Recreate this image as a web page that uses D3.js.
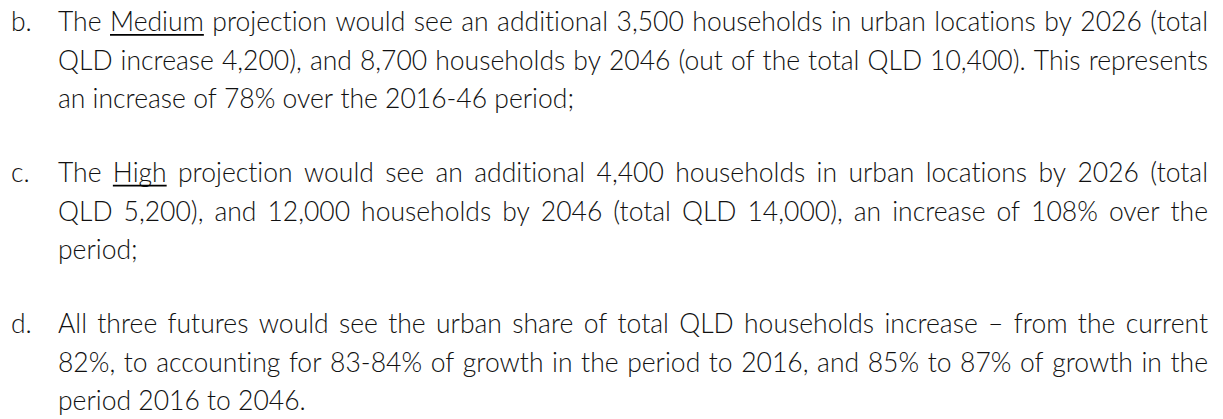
<!DOCTYPE html>
<html><head><meta charset="utf-8">
<script src="https://cdn.jsdelivr.net/npm/d3@7"></script>
<style>body{margin:0;background:#fff;overflow:hidden} text{font-variant-ligatures:none;font-feature-settings:"liga" 0,"clig" 0,"dlig" 0}</style>
</head><body>
<svg id="c" width="1223" height="419"></svg>
<script>
const labels = ["b.", "c.", "d."];
const paraB = [
  "The _Medium_ projection would see an additional 3,500 households in urban locations by 2026 (total",
  "QLD increase 4,200), and 8,700 households by 2046 (out of the total QLD 10,400). This represents",
  "an increase of 78% over the 2016-46 period;"
];
const paraC = [
  "The _High_ projection would see an additional 4,400 households in urban locations by 2026 (total",
  "QLD 5,200), and 12,000 households by 2046 (total QLD 14,000), an increase of 108% over the",
  "period;"
];
const paraD = [
  "All three futures would see the urban share of total QLD households increase \u2013 from the current",
  "82%, to accounting for 83-84% of growth in the period to 2016, and 85% to 87% of growth in the",
  "period 2016 to 2046."
];
const paragraphs = [paraB, paraC, paraD];

const labelX = 11, textLeft = 58, textRight = 1208;
const firstBase = 31, lineH = 38.7, paraGap = 73.5;
const fontSize = 26.5, color = "#111", fam = "Lato, 'Open Sans', sans-serif", weight = 300;

const svg = d3.select("#c");
const x = d3.scaleLinear().domain([0, 1]).range([textLeft, textRight]);

function txt(sel) {
  return sel.attr("font-family", fam).attr("font-weight", weight)
    .attr("font-size", fontSize).attr("fill", color);
}

let y = firstBase;
paragraphs.forEach((lines, pi) => {
  txt(svg.append("text")).attr("x", labelX).attr("y", y).text(labels[pi]);
  lines.forEach((line, li) => {
    const words = line.split(" ").map(w => {
      const u = w.startsWith("_") && w.endsWith("_");
      return {t: u ? w.slice(1, -1) : w, u};
    });
    const g = svg.append("g");
    const nodes = words.map(w => txt(g.append("text")).attr("y", y).text(w.t));
    const widths = nodes.map(n => n.node().getComputedTextLength());
    const total = d3.sum(widths);
    const p1 = txt(g.append("text")).text("a a"), p2 = txt(g.append("text")).text("aa");
    const spaceW = p1.node().getComputedTextLength() - p2.node().getComputedTextLength();
    p1.remove(); p2.remove();
    const justify = li < lines.length - 1;
    const gap = justify ? (x(1) - x(0) - total) / (words.length - 1) : spaceW;
    let cx = x(0);
    nodes.forEach((n, i) => {
      n.attr("x", cx);
      if (words[i].u) {
        g.append("line").attr("x1", cx).attr("x2", cx + widths[i])
          .attr("y1", y + 3.8).attr("y2", y + 3.8)
          .attr("stroke", "#000").attr("stroke-width", 1.8);
      }
      cx += widths[i] + gap;
    });
    if (li < lines.length - 1) y += lineH;
  });
  y += paraGap;
});
</script>
</body></html>
